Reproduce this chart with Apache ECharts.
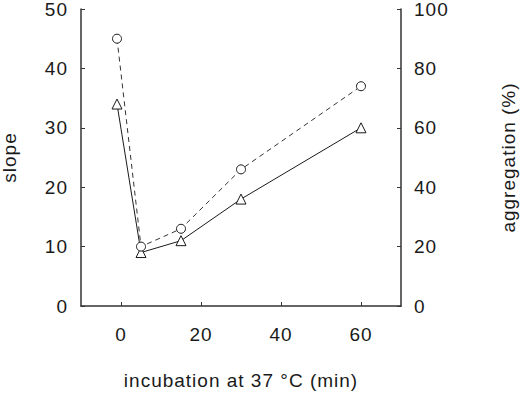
<!DOCTYPE html>
<html>
<head>
<meta charset="utf-8">
<script src="https://cdn.jsdelivr.net/npm/echarts@6/dist/echarts.min.js"></script>
<style>
  html, body { margin: 0; padding: 0; background: #fff; }
  #chart { width: 520px; height: 394px; }
  /* the scanned figure has loose tracking */
  #chart svg text { letter-spacing: 1px; }
</style>
</head>
<body>
<div id="chart"></div>
<script>
// incubation time (min)
const times = [-1, 5, 15, 30, 60]
// triangles, solid line, left axis
const slope = [34, 9, 11, 18, 30]
// circles, dashed line, right axis (%)
const aggregation = [90, 20, 26, 46, 74]
const xTicks = [0, 20, 40, 60]

const font = 'Liberation Sans, Arial, Helvetica, sans-serif'
const ink = '#1a1a1a'

const myChart = echarts.init(document.getElementById('chart'), null, { renderer: 'svg' })

const axisText = { fontFamily: font, fontSize: 19, color: ink }
const axisLine = { show: true, onZero: false, lineStyle: { color: '#333', width: 1.5 } }
const tick = { show: true, inside: true, length: 4, lineStyle: { color: '#333' } }

myChart.setOption({
    animation: false,
    backgroundColor: '#fff',
    textStyle: { fontFamily: font },
    grid: { left: 81, right: 119, top: 9, bottom: 88, containLabel: false, outerBoundsMode: 'none' },
    xAxis: {
        type: 'value',
        min: -10,
        max: 70,
        interval: 10,
        name: 'incubation at 37 °C (min)',
        nameLocation: 'middle',
        nameGap: 65,
        nameTextStyle: axisText,
        splitLine: { show: false },
        axisLine: axisLine,
        axisTick: { ...tick, customValues: xTicks },
        axisLabel: { ...axisText, margin: 19, customValues: xTicks }
    },
    yAxis: [{
        type: 'value',
        position: 'left',
        min: 0,
        max: 50,
        interval: 10,
        name: 'slope',
        nameLocation: 'middle',
        nameRotate: 90,
        nameGap: 62,
        nameTextStyle: axisText,
        splitLine: { show: false },
        axisLine: axisLine,
        axisTick: tick,
        axisLabel: { ...axisText, margin: 13 }
    }, {
        type: 'value',
        position: 'right',
        min: 0,
        max: 100,
        interval: 20,
        name: 'aggregation (%)',
        nameLocation: 'middle',
        nameRotate: 90,
        nameGap: 98,
        nameTextStyle: axisText,
        splitLine: { show: false },
        axisLine: axisLine,
        axisTick: tick,
        axisLabel: { ...axisText, margin: 13 }
    }],
    series: [{
        name: 'slope',
        type: 'line',
        yAxisIndex: 0,
        data: times.map((t, i) => [t, slope[i]]),
        symbol: 'triangle',
        symbolSize: 10,
        showAllSymbol: true,
        lineStyle: { color: ink, width: 1 },
        itemStyle: { color: '#fff', borderColor: ink, borderWidth: 1 }
    }, {
        name: 'aggregation',
        type: 'line',
        yAxisIndex: 1,
        data: times.map((t, i) => [t, aggregation[i]]),
        symbol: 'circle',
        symbolSize: 9,
        showAllSymbol: true,
        lineStyle: { color: '#333', width: 1, type: [5, 4] },
        itemStyle: { color: '#fff', borderColor: ink, borderWidth: 1 }
    }]
});
</script>
</body>
</html>
